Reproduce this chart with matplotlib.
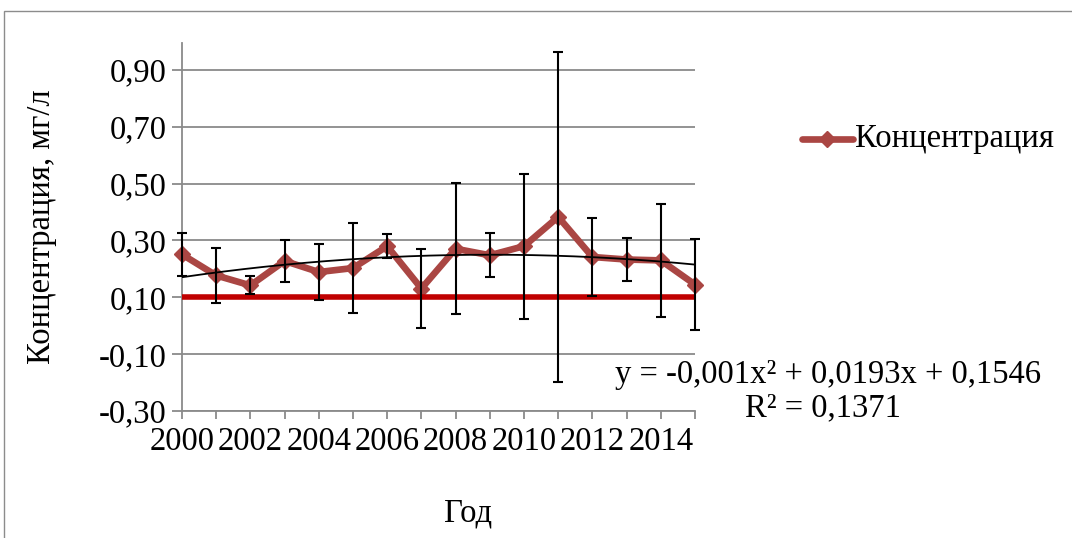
import numpy as np
import matplotlib
matplotlib.use("Agg")
import matplotlib.pyplot as plt
from matplotlib.patches import Rectangle
from matplotlib.lines import Line2D
from matplotlib.ticker import FixedLocator, MultipleLocator

plt.rcParams['font.family'] = ['Liberation Serif', 'DejaVu Serif']

years = list(range(2000, 2016))
concentration = [0.251, 0.177, 0.142, 0.228, 0.189, 0.203, 0.280, 0.131,
                 0.271, 0.248, 0.280, 0.383, 0.242, 0.233, 0.230, 0.145]
errors = [0.077, 0.098, 0.032, 0.073, 0.099, 0.157, 0.042, 0.140,
          0.231, 0.077, 0.255, 0.580, 0.137, 0.077, 0.200, 0.159]
limit = [0.10] * 16
y_ticks = [-0.30, -0.10, 0.10, 0.30, 0.50, 0.70, 0.90]
x_tick_labels = [2000, 2002, 2004, 2006, 2008, 2010, 2012, 2014]
series_name = "Концентрация"
y_label = "Концентрация, мг/л"
x_label = "Год"
equation = "y = -0,001x² + 0,0193x + 0,1546"
r2_text = "R² = 0,1371"

FS = 23.5
W, H = 1072, 538
fig = plt.figure(figsize=(W / 100, H / 100), dpi=100)
fig.patch.set_facecolor('white')

# outer chart border
fig.add_artist(Rectangle((4 / W, -0.1), 1.2, 1 - 11 / H + 0.1, transform=fig.transFigure,
                         fill=False, edgecolor='#8c8c8c', lw=1.0))

ax = fig.add_axes([182 / W, 1 - 411 / H, (695 - 182) / W, (411 - 43) / H])
ax.set_xlim(2000, 2015)
ax.set_ylim(-0.30, 0.995)

grid_c = '#8a8a8a'
for yv in y_ticks:
    ax.axhline(yv, color=grid_c, lw=1.3, zorder=1)

ax.spines['top'].set_visible(False)
ax.spines['right'].set_visible(False)
ax.spines['left'].set_color(grid_c)
ax.spines['bottom'].set_color(grid_c)
ax.spines['left'].set_linewidth(1.3)
ax.spines['bottom'].set_linewidth(1.3)

ax.yaxis.set_major_locator(FixedLocator(y_ticks))
ax.set_yticklabels([f"{v:.2f}".replace('.', ',') for v in y_ticks])
ax.xaxis.set_major_locator(FixedLocator(x_tick_labels))
ax.set_xticklabels([str(v) for v in x_tick_labels])
ax.xaxis.set_minor_locator(MultipleLocator(1))
ax.tick_params(axis='y', direction='out', length=7, width=1.3, color=grid_c,
               labelsize=FS, pad=4)
ax.tick_params(axis='x', which='both', direction='out', length=6, width=1.3,
               color=grid_c, labelsize=FS, pad=5)

# series with error bars
ax.errorbar(years, concentration, yerr=errors, fmt='none', ecolor='black',
            elinewidth=1.5, capsize=3.8, capthick=1.5, zorder=4, clip_on=False)
ax.plot(years, concentration, color='#AA4643', lw=4.8, marker='D', markersize=8.5,
        zorder=3, clip_on=False, solid_joinstyle='miter')
# limit line
ax.plot(years, limit, color='#C00000', lw=4.0, zorder=3.5, solid_capstyle='butt')
# polynomial trendline (order 2)
xi = np.arange(1, len(years) + 1)
coef = np.polyfit(xi, concentration, 2)
xf = np.linspace(1, len(years), 200)
ax.plot(np.array(years[0]) - 1 + xf, np.polyval(coef, xf), color='black', lw=1.3, zorder=5)

fig.text(42 / W, 1 - 227 / H, y_label, rotation=90, ha='center', va='center', fontsize=FS)
fig.text(468 / W, 1 - 513 / H, x_label, ha='center', va='center', fontsize=FS)
fig.text(828 / W, 1 - 375 / H, equation, ha='center', va='center', fontsize=FS)
fig.text(823 / W, 1 - 408 / H, r2_text, ha='center', va='center', fontsize=FS)

# legend
fig.add_artist(Line2D([802 / W, 853 / W], [1 - 139 / H, 1 - 139 / H], transform=fig.transFigure,
                      color='#AA4643', lw=4.8, solid_capstyle='round'))
fig.add_artist(Line2D([827 / W], [1 - 139 / H], transform=fig.transFigure,
                      color='#AA4643', marker='D', markersize=8.5, lw=0))
fig.text(855 / W, 1 - 139 / H, series_name, ha='left', va='center', fontsize=FS)

fig.savefig('out.png', dpi=100)
